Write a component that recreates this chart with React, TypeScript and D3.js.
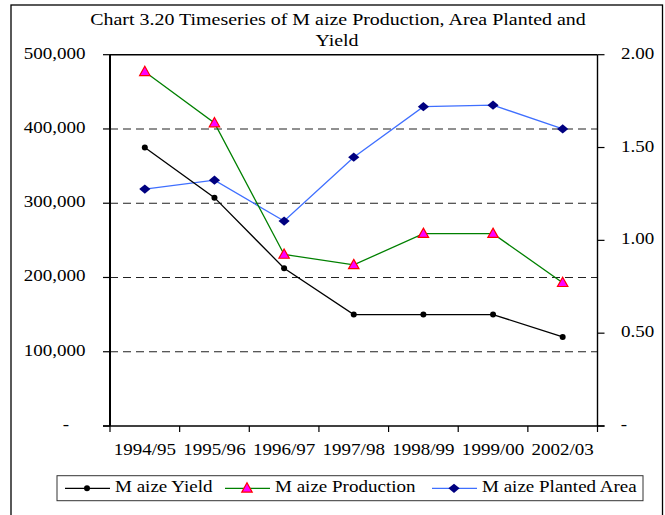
import React from 'react';
import * as d3 from 'd3';

const seasons = ['1994/95', '1995/96', '1996/97', '1997/98', '1998/99', '1999/00', '2002/03'];
const maizeYield = [1.5, 1.23, 0.85, 0.6, 0.6, 0.6, 0.48];
const maizeProduction = [477000, 408000, 231000, 217000, 259000, 259000, 193000];
const maizePlantedArea = [319000, 331000, 276000, 362000, 430000, 432000, 400000];
const leftTicks = [0, 100000, 200000, 300000, 400000, 500000];
const rightTicks = [0, 0.5, 1, 1.5, 2];

const W = 665;
const H = 515;
const plot = { left: 110, right: 597.5, top: 54.7, bottom: 426 };
const FONT = '"Liberation Serif", "Times New Roman", serif';

const fmtLeft = (v: number) => (v === 0 ? '-' : d3.format(',')(v));
const fmtRight = (v: number) => (v === 0 ? '-' : d3.format('.2f')(v));

// the original picture is stretched sideways, so text gets a horizontal scale
const T: React.FC<{ x: number; y: number; anchor?: string; size?: number; sx?: number; children: React.ReactNode }> = ({
  x, y, anchor = 'start', size = 17, sx = 1.12, children
}) => (
  <text
    transform={`translate(${x},${y}) scale(${sx},1)`}
    textAnchor={anchor}
    fontFamily={FONT}
    fontSize={size}
    fill="#000"
  >
    {children}
  </text>
);

const triangle = 'M0,-5.5L5.2,3.8L-5.2,3.8Z';
const diamond = 'M0,-4.6L5.6,0L0,4.6L-5.6,0Z';

const App: React.FC = () => {
  const x = d3.scaleBand().domain(seasons).range([plot.left, plot.right]);
  const cx = (s: string) => (x(s) || 0) + x.bandwidth() / 2;
  const yL = d3.scaleLinear().domain([0, 500000]).range([plot.bottom, plot.top]);
  const yR = d3.scaleLinear().domain([0, 2]).range([plot.bottom, plot.top]);

  const lineL = d3.line<number>().x((_, i) => cx(seasons[i])).y(d => yL(d));
  const lineR = d3.line<number>().x((_, i) => cx(seasons[i])).y(d => yR(d));

  const legendY = 488.3;

  return (
    <svg
      width={W}
      height={H}
      style={{ position: 'absolute', left: 0, top: 0, background: '#fff' }}
    >
      {/* outer frame */}
      <rect x={11} y={5} width={651.5} height={530} fill="none" stroke="#000" strokeWidth={1.3} />

      {/* title */}
      <T x={338} y={25} anchor="middle" size={17.5} sx={1.14}>Chart 3.20 Timeseries of M aize Production, Area Planted and</T>
      <T x={337} y={46} anchor="middle" size={17.5} sx={1.14}>Yield</T>

      {/* gridlines */}
      {leftTicks.filter(t => t > 0 && t < 500000).map(t => (
        <line key={t} x1={plot.left} x2={plot.right} y1={yL(t)} y2={yL(t)}
          stroke="#222" strokeWidth={1.1} strokeDasharray="8,5" />
      ))}
      <line x1={plot.left} x2={plot.right} y1={plot.top} y2={plot.top} stroke="#000" strokeWidth={1.5} />

      {/* left axis */}
      <line x1={plot.left} x2={plot.left} y1={plot.top} y2={plot.bottom} stroke="#000" strokeWidth={2} />
      {leftTicks.map(t => (
        <g key={t}>
          <line x1={plot.left - 7} x2={plot.left} y1={yL(t)} y2={yL(t)} stroke="#000" strokeWidth={1.2} />
          <T x={t === 0 ? 66 : 85.5} y={yL(t) + 4} anchor={t === 0 ? 'middle' : 'end'}>{fmtLeft(t)}</T>
        </g>
      ))}

      {/* right axis */}
      <line x1={plot.right} x2={plot.right} y1={plot.top} y2={plot.bottom} stroke="#000" strokeWidth={1.4} />
      {rightTicks.map(t => (
        <g key={t}>
          <line x1={plot.right} x2={plot.right + 7} y1={yR(t)} y2={yR(t)} stroke="#000" strokeWidth={1.2} />
          <T x={t === 0 ? 624 : 621} y={yR(t) + 4} anchor={t === 0 ? 'middle' : 'start'}>{fmtRight(t)}</T>
        </g>
      ))}

      {/* bottom axis */}
      <line x1={plot.left - 7} x2={plot.right + 7} y1={plot.bottom} y2={plot.bottom} stroke="#000" strokeWidth={1.5} />
      {[...seasons.map(s => x(s) || 0), plot.right].map((v, i) => (
        <line key={i} x1={v} x2={v} y1={plot.bottom} y2={plot.bottom + 6} stroke="#000" strokeWidth={1.2} />
      ))}
      {seasons.map(s => (
        <T key={s} x={cx(s)} y={455} anchor="middle">{s}</T>
      ))}

      {/* series */}
      <path d={lineL(maizePlantedArea) || ''} fill="none" stroke="#3f6fff" strokeWidth={1.3} />
      {maizePlantedArea.map((v, i) => (
        <path key={i} d={diamond} transform={`translate(${cx(seasons[i])},${yL(v)})`} fill="#000080" />
      ))}
      <path d={lineL(maizeProduction) || ''} fill="none" stroke="#008000" strokeWidth={1.3} />
      {maizeProduction.map((v, i) => (
        <path key={i} d={triangle} transform={`translate(${cx(seasons[i])},${yL(v)})`}
          fill="#ff00ff" stroke="#ff0000" strokeWidth={1.2} />
      ))}
      <path d={lineR(maizeYield) || ''} fill="none" stroke="#000" strokeWidth={1.3} />
      {maizeYield.map((v, i) => (
        <circle key={i} cx={cx(seasons[i])} cy={yR(v)} r={3} fill="#000" />
      ))}

      {/* legend */}
      <rect x={57} y={475.7} width={586} height={25} fill="#fff" stroke="#333" strokeWidth={1} />
      <line x1={65} x2={110} y1={legendY} y2={legendY} stroke="#000" strokeWidth={1.3} />
      <circle cx={87} cy={legendY} r={3} fill="#000" />
      <T x={115} y={492}>M aize Yield</T>
      <line x1={225} x2={270} y1={legendY} y2={legendY} stroke="#008000" strokeWidth={1.3} />
      <path d={triangle} transform={`translate(247,${legendY})`} fill="#ff00ff" stroke="#ff0000" strokeWidth={1.2} />
      <T x={275} y={492}>M aize Production</T>
      <line x1={432} x2={477} y1={legendY} y2={legendY} stroke="#3f6fff" strokeWidth={1.3} />
      <path d={diamond} transform={`translate(454,${legendY})`} fill="#000080" />
      <T x={482} y={492}>M aize Planted Area</T>
    </svg>
  );
};

export default App;
